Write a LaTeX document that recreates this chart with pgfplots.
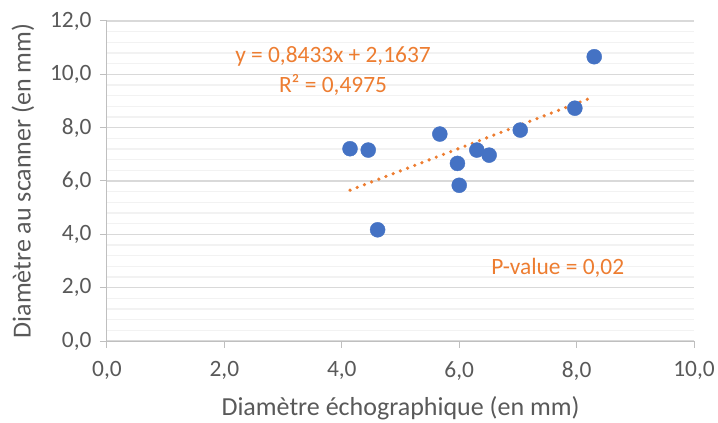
\documentclass[border=0pt]{standalone}
\usepackage{fontspec}
\setmainfont{Carlito}
\usepackage{pgfplots}
\pgfplotsset{compat=1.18}

\definecolor{ptblue}{HTML}{4472C4}
\definecolor{trendor}{HTML}{ED7D31}
\definecolor{txtgray}{HTML}{595959}
\definecolor{axgray}{HTML}{BFBFBF}
\definecolor{majgrid}{HTML}{D9D9D9}
\definecolor{mingrid}{HTML}{F2F2F2}

\begin{document}
\begin{tikzpicture}
\path[use as bounding box] (0,0) rectangle (718bp,423bp);
\begin{axis}[
  at={(107bp,82bp)}, anchor=south west,
  scale only axis, width=587bp, height=320bp,
  xmin=0, xmax=10, ymin=0, ymax=12,
  xtick={0,2,...,10}, ytick={0,2,...,12},
  minor y tick num=4,
  axis x line*=bottom, axis y line*=left,
  axis line style={draw=axgray, line width=1bp, -},
  tick align=outside, major tick length=7bp, minor tick length=0pt,
  tick style={draw=axgray, line width=1bp},
  ymajorgrids, yminorgrids,
  major grid style={draw=majgrid, line width=1.2bp},
  minor grid style={draw=mingrid, line width=1.2bp},
  ticklabel style={font=\fontsize{23.4bp}{28bp}\selectfont, text=txtgray},
  /pgf/number format/.cd, use comma, fixed, fixed zerofill, precision=1, assume math mode=true,
  /pgfplots/.cd,
  xticklabel style={yshift=-10bp},
  yticklabel style={xshift=-5bp},
  xlabel={Diamètre échographique (en mm)},
  ylabel={Diamètre au scanner (en mm)},
  label style={font=\fontsize{26bp}{30bp}\selectfont, text=txtgray},
  xlabel style={yshift=-9bp},
  ylabel style={yshift=9bp},
  clip=false,
]
% points
\addplot[only marks, mark=*, mark size=7.5bp, mark options={fill=ptblue, draw=ptblue}]
coordinates {
  (8.30,10.66) (7.97,8.73) (7.04,7.91) (5.67,7.76) (4.14,7.21) (4.45,7.16)
  (6.30,7.16) (6.51,6.97) (5.97,6.66) (6.00,5.84) (4.61,4.17)
};
% linear trend line endpoints
\addplot[trendor, line width=3.6bp, line cap=round, dash pattern=on 0pt off 7.7bp]
coordinates {(4.14,5.655) (8.30,9.163)};
\node[text=trendor, font=\fontsize{23.4bp}{28bp}\selectfont] at (axis cs:3.85,10.69) {y = 0,8433x + 2,1637};
\node[text=trendor, font=\fontsize{23.4bp}{28bp}\selectfont] at (axis cs:3.85,9.60) {R² = 0,4975};
\node[text=trendor, font=\fontsize{23.4bp}{28bp}\selectfont] at (axis cs:7.68,2.74) {P-value = 0,02};
\end{axis}
\end{tikzpicture}
\end{document}
